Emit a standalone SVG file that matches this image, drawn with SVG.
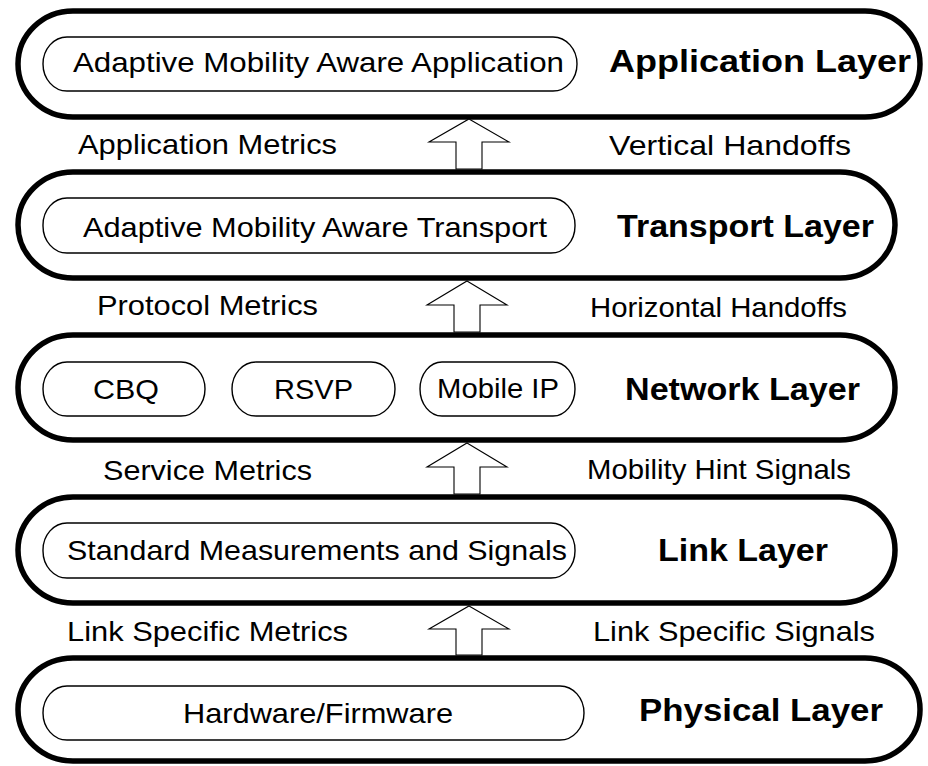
<svg xmlns="http://www.w3.org/2000/svg" width="928" height="766" viewBox="0 0 928 766">
<style>
.layer{fill:none;stroke:#000;stroke-width:5.5}
.box{fill:#fff;stroke:#000;stroke-width:1.4}
.arrow{fill:#fff;stroke:#000;stroke-width:1.1;stroke-linejoin:miter}
.t{font-family:"Liberation Sans",Arial,sans-serif;font-size:28.5px;fill:#000}
.b{font-family:"Liberation Sans",Arial,sans-serif;font-size:31px;font-weight:bold;fill:#000}
</style>
<rect width="928" height="766" fill="#fff"/>
<g id="application-layer">
<rect class="layer" x="18" y="11" width="902" height="106" rx="55" ry="53"/>
<text class="b" x="609" y="72" textLength="302" lengthAdjust="spacingAndGlyphs">Application Layer</text>
</g>
<g id="app-node">
<rect class="box" x="43" y="37" width="534" height="54" rx="24" ry="27"/>
<text class="t" x="73" y="72" textLength="491" lengthAdjust="spacingAndGlyphs">Adaptive Mobility Aware Application</text>
</g>
<g id="transport-layer">
<rect class="layer" x="18" y="172" width="877" height="106" rx="55" ry="53"/>
<text class="b" x="617" y="237" textLength="257" lengthAdjust="spacingAndGlyphs">Transport Layer</text>
</g>
<g id="transport-node">
<rect class="box" x="43" y="198" width="532" height="55" rx="24" ry="27"/>
<text class="t" x="83" y="237" textLength="464" lengthAdjust="spacingAndGlyphs">Adaptive Mobility Aware Transport</text>
</g>
<g id="network-layer">
<rect class="layer" x="18" y="335" width="877" height="105" rx="55" ry="52"/>
<text class="b" x="625" y="400" textLength="235" lengthAdjust="spacingAndGlyphs">Network Layer</text>
</g>
<g id="cbq-node">
<rect class="box" x="43" y="362" width="162" height="54" rx="24" ry="27"/>
<text class="t" x="93" y="399" textLength="66" lengthAdjust="spacingAndGlyphs">CBQ</text>
</g>
<g id="rsvp-node">
<rect class="box" x="232" y="362" width="163" height="54" rx="24" ry="27"/>
<text class="t" x="274" y="399" textLength="79" lengthAdjust="spacingAndGlyphs">RSVP</text>
</g>
<g id="mobileip-node">
<rect class="box" x="420" y="362" width="155" height="54" rx="22" ry="27"/>
<text class="t" x="437" y="398" textLength="122" lengthAdjust="spacingAndGlyphs">Mobile IP</text>
</g>
<g id="link-layer">
<rect class="layer" x="18" y="497" width="877" height="106" rx="55" ry="53"/>
<text class="b" x="658" y="561" textLength="170" lengthAdjust="spacingAndGlyphs">Link Layer</text>
</g>
<g id="link-node">
<rect class="box" x="43" y="523" width="532" height="55" rx="24" ry="27"/>
<text class="t" x="67" y="560" textLength="500" lengthAdjust="spacingAndGlyphs">Standard Measurements and Signals</text>
</g>
<g id="physical-layer">
<rect class="layer" x="18" y="658" width="902" height="103" rx="55" ry="51"/>
<text class="b" x="639" y="721" textLength="244" lengthAdjust="spacingAndGlyphs">Physical Layer</text>
</g>
<g id="physical-node">
<rect class="box" x="43" y="686" width="541" height="54" rx="24" ry="27"/>
<text class="t" x="183" y="723" textLength="270" lengthAdjust="spacingAndGlyphs">Hardware/Firmware</text>
</g>
<g id="connectors">
<polygon class="arrow" points="469,119 509,142 482,142 482,169 456,169 456,142 429,142"/>
<polygon class="arrow" points="467,281 507,305 480,305 480,332 454,332 454,305 427,305"/>
<polygon class="arrow" points="467,443 507,467 480,467 480,494 454,494 454,467 427,467"/>
<polygon class="arrow" points="469,606 509,629 482,629 482,655 456,655 456,629 429,629"/>
<text class="t" x="78" y="154" textLength="259" lengthAdjust="spacingAndGlyphs">Application Metrics</text>
<text class="t" x="609" y="155" textLength="242" lengthAdjust="spacingAndGlyphs">Vertical Handoffs</text>
<text class="t" x="97" y="315" textLength="221" lengthAdjust="spacingAndGlyphs">Protocol Metrics</text>
<text class="t" x="590" y="317" textLength="257" lengthAdjust="spacingAndGlyphs">Horizontal Handoffs</text>
<text class="t" x="103" y="480" textLength="209" lengthAdjust="spacingAndGlyphs">Service Metrics</text>
<text class="t" x="587" y="479" textLength="264" lengthAdjust="spacingAndGlyphs">Mobility Hint Signals</text>
<text class="t" x="67" y="641" textLength="281" lengthAdjust="spacingAndGlyphs">Link Specific Metrics</text>
<text class="t" x="593" y="641" textLength="282" lengthAdjust="spacingAndGlyphs">Link Specific Signals</text>
</g>
</svg>
